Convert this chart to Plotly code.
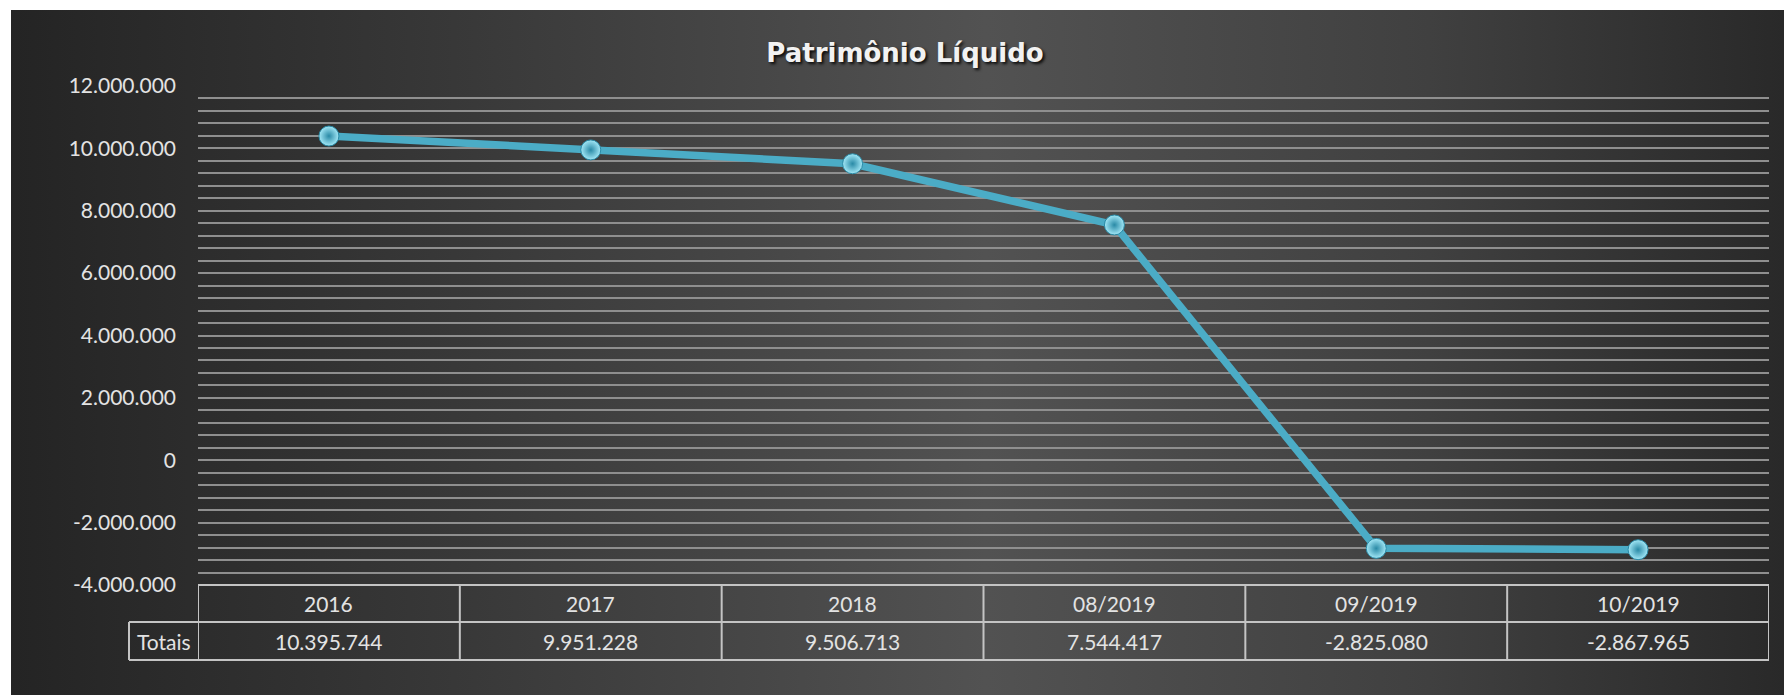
import base64
import plotly.graph_objects as go

# dados do gráfico
periodos = ["2016", "2017", "2018", "08/2019", "09/2019", "10/2019"]
totais = [10395744, 9951228, 9506713, 7544417, -2825080, -2867965]
y_ticks = [-4000000, -2000000, 0, 2000000, 4000000, 6000000, 8000000, 10000000, 12000000]
linha_rotulo = "Totais"


def fmt(v):
    return f"{v:,}".replace(",", ".")


W, H = 1784, 695
L, R, T, B = 198, 15, 86, 35
plot_w = W - L - R
plot_h = H - T - B
tab_top = (660 - 585) / plot_h
tab_mid = (660 - 622) / plot_h

# fundo em degradê (svg embutido)
bg_x0, bg_y0 = 11, 10
svg = f"""<svg xmlns='http://www.w3.org/2000/svg' width='{W-bg_x0}' height='{H-bg_y0}'>
<defs><linearGradient id='g' x1='0' y1='0' x2='1' y2='0'>
<stop offset='0' stop-color='#242424'/>
<stop offset='0.25' stop-color='#383838'/>
<stop offset='0.55' stop-color='#525252'/>
<stop offset='0.8' stop-color='#404040'/>
<stop offset='1' stop-color='#292929'/>
</linearGradient></defs>
<rect width='100%' height='100%' fill='url(#g)'/></svg>"""
bg_src = "data:image/svg+xml;base64," + base64.b64encode(svg.encode()).decode()

grid_color = "#8f8f8f"
text_color = "#e3e3e3"
border_color = "#c4c4c4"
font_name = "Lato"

fig = go.Figure()
fig.add_trace(go.Scatter(
    x=periodos, y=totais, mode="lines+markers",
    line=dict(color="#4bacc6", width=7.5),
    marker=dict(size=20, color="#a3e8f7",
                gradient=dict(type="radial", color="#2a8aa6"),
                line=dict(color="#2a8aa6", width=1)),
    showlegend=False,
))

shapes = []
# linhas horizontais da tabela
shapes.append(dict(type="line", xref="paper", yref="paper", x0=0, x1=1, y0=tab_top, y1=tab_top,
                   line=dict(color=border_color, width=2)))
x_tot = (129 - L) / plot_w
for yy in [tab_mid, 0]:
    shapes.append(dict(type="line", xref="paper", yref="paper", x0=x_tot, x1=1, y0=yy, y1=yy,
                       line=dict(color=border_color, width=2)))
# separadores verticais
for i in range(len(periodos) + 1):
    shapes.append(dict(type="line", xref="x", yref="paper", x0=i - 0.5, x1=i - 0.5, y0=0, y1=tab_top,
                       line=dict(color=border_color, width=2)))
shapes.append(dict(type="line", xref="paper", yref="paper", x0=x_tot, x1=x_tot, y0=0, y1=tab_mid,
                   line=dict(color=border_color, width=2)))

tfont = dict(size=21, color=text_color, family=font_name)
annotations = []
for i, (p, v) in enumerate(zip(periodos, totais)):
    annotations.append(dict(x=i, xref="x", y=(tab_top + tab_mid) / 2, yref="paper", text=p,
                            showarrow=False, font=tfont, xanchor="center", yanchor="middle"))
    annotations.append(dict(x=i, xref="x", y=tab_mid / 2, yref="paper", text=fmt(v),
                            showarrow=False, font=tfont, xanchor="center", yanchor="middle"))
annotations.append(dict(x=x_tot / 2, xref="paper", y=tab_mid / 2, yref="paper", text=linha_rotulo,
                        showarrow=False, font=tfont, xanchor="center", yanchor="middle"))

fig.update_layout(
    width=W, height=H,
    margin=dict(l=L, r=R, t=T, b=B),
    paper_bgcolor="white",
    plot_bgcolor="rgba(0,0,0,0)",
    title=dict(text="Patrimônio Líquido", x=905 / W, xanchor="center",
               y=1 - 53 / H, yanchor="middle",
               font=dict(family="DejaVu Sans", size=26, color="#f2f2f2", weight="bold",
                         shadow="2px 2px 3px rgba(0,0,0,0.85)")),
    images=[dict(source=bg_src, xref="paper", yref="paper",
                 x=(bg_x0 - L) / plot_w, y=(H - B - bg_y0) / plot_h,
                 sizex=(W - bg_x0) / plot_w, sizey=(H - bg_y0) / plot_h,
                 xanchor="left", yanchor="top", sizing="stretch", layer="below")],
    xaxis=dict(type="category", range=[-0.5, len(periodos) - 0.5], showticklabels=False,
               showgrid=False, zeroline=False, showline=False, ticks=""),
    yaxis=dict(domain=[tab_top, 1], range=[-4000000, 12000000],
               tickvals=y_ticks, ticktext=[fmt(v) for v in y_ticks],
               tickfont=dict(size=21, color=text_color, family=font_name),
               showgrid=True, gridcolor=grid_color, gridwidth=2, zeroline=False,
               ticks="", ticklabelstandoff=21,
               minor=dict(dtick=400000, tick0=-4000000, showgrid=True,
                          gridcolor=grid_color, gridwidth=2)),
    shapes=shapes,
    annotations=annotations,
)

# remove a margem padrão do body para o gráfico ocupar a janela inteira
fig.write_html("out.html", config={"displayModeBar": False},
               post_script="document.body.style.margin='0';document.body.style.overflow='hidden';")
